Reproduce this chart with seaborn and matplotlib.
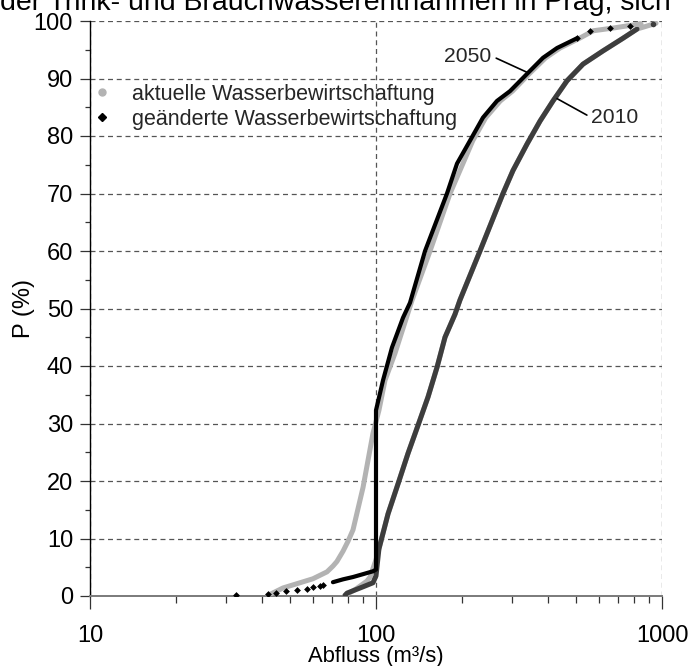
import matplotlib
matplotlib.use("Agg")
import matplotlib.pyplot as plt
import seaborn as sns
from matplotlib.lines import Line2D
from matplotlib.ticker import FixedLocator, NullFormatter

# ---------------- data ----------------
# 2050, geänderte Wasserbewirtschaftung (black)
q2050_new = [32.4, 41.9, 44.7, 48.5, 52.9, 57.4, 60.2, 63.7, 65.3, 70.7, 76.7, 83.1,
             90.1, 93.0, 97.6, 100.0, 100.0, 105.8, 113.7, 124.3, 131.5, 148.4, 177.1,
             192.0, 213.2, 236.6, 264.9, 294.1, 337.3, 383.7, 429.5, 504.5, 560.2,
             658.0, 773.0]
p2050_new = [0.1, 0.4, 0.6, 0.8, 1.0, 1.3, 1.5, 1.7, 1.9, 2.4, 2.9, 3.3,
             3.8, 4.0, 4.3, 4.6, 32.3, 37.5, 43.2, 48.4, 51.0, 60.0, 70.0,
             75.2, 79.2, 83.2, 86.1, 87.8, 90.8, 93.6, 95.3, 97.0, 98.3,
             98.8, 99.1]

# 2050, aktuelle Wasserbewirtschaftung (light grey)
q2050_cur = [41.9, 47.3, 54.2, 60.2, 63.7, 67.4, 70.7, 73.0, 76.7, 79.8, 83.1, 90.1,
             97.6, 102.4, 107.5, 116.5, 133.6, 154.5, 181.5, 218.0, 242.0, 272.0,
             300.0, 343.0, 392.0, 440.0, 515.0, 575.0, 680.0, 837.8]
p2050_cur = [0.1, 1.4, 2.3, 3.0, 3.6, 4.2, 5.2, 6.0, 7.8, 9.5, 11.5, 18.9,
             28.3, 32.3, 37.5, 42.2, 51.4, 60.0, 70.0, 79.2, 83.2, 86.1,
             87.8, 90.8, 93.6, 95.3, 97.0, 98.3, 98.8, 99.5]

# 2010, geänderte Wasserbewirtschaftung (dark grey)
q2010_new = [77.9, 79.2, 90.1, 97.6, 100.0, 102.4, 110.2, 119.4, 129.4, 140.3, 152.0,
             163.5, 174.3, 188.9, 196.7, 231.0, 278.0, 301.3, 337.3, 374.6, 415.8,
             465.4, 529.5, 621.9, 730.5, 817.7, 930.0]
p2010_new = [0.1, 0.5, 1.6, 2.3, 3.5, 8.2, 14.3, 19.5, 24.8, 29.7, 34.6,
             39.8, 45.0, 49.0, 51.5, 60.0, 70.0, 74.0, 78.6, 82.6, 86.1,
             89.6, 92.5, 94.8, 97.0, 98.6, 99.4]

# 2010, aktuelle Wasserbewirtschaftung (light grey, mostly hidden)
q2010_cur = [77.9, 85.0, 93.0, 95.3, 100.0, 102.4, 110.2, 119.4, 129.4, 140.3, 152.0,
             163.5, 174.3, 188.9, 196.7, 231.0, 278.0, 301.3, 337.3, 374.6, 415.8,
             465.4, 529.5, 621.9, 730.5, 817.7, 953.0]
p2010_cur = [0.1, 1.2, 2.6, 3.3, 6.3, 8.2, 14.3, 19.5, 24.8, 29.7, 34.6,
             39.8, 45.0, 49.0, 51.5, 60.0, 70.0, 74.0, 78.6, 82.6, 86.1,
             89.6, 92.5, 94.8, 97.0, 98.6, 99.6]

y_ticks = [0, 10, 20, 30, 40, 50, 60, 70, 80, 90, 100]
y_minor = [5, 15, 25, 35, 45, 55, 65, 75, 85, 95]
x_ticks = [10, 100, 1000]
x_tick_labels = ["10", "100", "1000"]
x_minor = [20, 30, 40, 50, 60, 70, 80, 90, 200, 300, 400, 500, 600, 700, 800, 900]

legend_labels = ["aktuelle Wasserbewirtschaftung", "geänderte Wasserbewirtschaftung"]
title_text = "der Trink- und Brauchwasserentnahmen in Prag, sich"

# ---------------- styling ----------------
sns.set_theme(style="white")
plt.rcParams["font.family"] = ["Liberation Sans", "DejaVu Sans"]

LIGHT = "#b3b3b3"
DARK = "#3d3d3d"
BLACK = "#000000"

fig = plt.figure(figsize=(6.91, 6.66), dpi=100)
ax = fig.add_axes([90 / 691, 70 / 666, 572 / 691, 575 / 666])

# 2010 curves
sns.lineplot(x=q2010_cur, y=p2010_cur, sort=False, estimator=None, color=LIGHT,
             lw=3.6, ax=ax, zorder=3)
sns.lineplot(x=q2010_new[:-1], y=p2010_new[:-1], sort=False, estimator=None, color=DARK,
             lw=3.6, ax=ax, zorder=4)
sns.scatterplot(x=q2010_new[-1:], y=p2010_new[-1:], color=DARK, s=16, linewidth=0,
                ax=ax, zorder=4)

# 2050 curves
sns.lineplot(x=q2050_cur, y=p2050_cur, sort=False, estimator=None, color=LIGHT,
             lw=3.6, ax=ax, zorder=5)
sns.scatterplot(x=q2050_cur[-1:], y=p2050_cur[-1:], color=LIGHT, s=20, linewidth=0,
                ax=ax, zorder=5)
sns.lineplot(x=q2050_new[9:32], y=p2050_new[9:32], sort=False, estimator=None,
             color=BLACK, lw=3.0, ax=ax, zorder=6)
sns.scatterplot(x=q2050_new[:9], y=p2050_new[:9], marker="D", color=BLACK, s=12,
                linewidth=0, ax=ax, zorder=6)
sns.scatterplot(x=q2050_new[31:], y=p2050_new[31:], marker="D", color=BLACK, s=12,
                linewidth=0, ax=ax, zorder=6)

ax.set_xscale("log")
ax.set_xlim(10, 1000)
ax.set_ylim(0, 100)

ax.xaxis.set_major_locator(FixedLocator(x_ticks))
ax.set_xticklabels(x_tick_labels)
ax.xaxis.set_minor_locator(FixedLocator(x_minor))
ax.xaxis.set_minor_formatter(NullFormatter())
ax.set_yticks(y_ticks)
ax.yaxis.set_minor_locator(FixedLocator(y_minor))

ax.tick_params(axis="y", which="major", left=True, direction="out", length=7.2,
               width=0.9, color="#333333", labelsize=17, pad=5, labelcolor="black")
ax.tick_params(axis="y", which="minor", left=True, direction="out", length=3.8,
               width=0.9, color="#333333")
ax.tick_params(axis="x", which="major", bottom=True, direction="out", length=9,
               width=0.9, color="#333333", labelsize=17, pad=12, labelcolor="black")
ax.tick_params(axis="x", which="minor", bottom=True, direction="out", length=5,
               width=0.9, color="#333333")

ax.grid(True, which="major", linestyle=(0, (4, 3)), color="#555555", lw=0.9)
ax.set_axisbelow(True)

for s in ["top", "right"]:
    ax.spines[s].set_visible(False)
ax.spines["left"].set_color("black")
ax.spines["left"].set_linewidth(1.0)
ax.spines["bottom"].set_color("#7a7a7a")
ax.spines["bottom"].set_linewidth(1.4)

ax.set_ylabel("P (%)", fontsize=17, labelpad=-1, color="black")
ax.set_xlabel("Abfluss (m³/s)", fontsize=15.8, labelpad=-1, color="black")

# annotations
ax.annotate("2050", xy=(340, 91.0), xytext=(209.8, 93.9), fontsize=15.2,
            ha="center", va="center", zorder=7,
            arrowprops=dict(arrowstyle="-", color="black", lw=1.2,
                            relpos=(1, 0.5), shrinkA=1, shrinkB=0))
ax.annotate("2010", xy=(429.6, 86.5), xytext=(685, 83.2), fontsize=15.2,
            ha="center", va="center", zorder=7,
            arrowprops=dict(arrowstyle="-", color="black", lw=1.2,
                            relpos=(0, 0.5), shrinkA=1, shrinkB=0))

# legend
handles = [Line2D([], [], marker="o", color=LIGHT, linestyle="none", markersize=5),
           Line2D([], [], marker="D", color=BLACK, linestyle="none", markersize=3.8)]
leg = ax.legend(handles, legend_labels, loc="upper left", bbox_to_anchor=(0.002, 0.891),
                frameon=False, fontsize=15.5, handlelength=1.0, handletextpad=0.9,
                borderpad=0, borderaxespad=0, labelspacing=0.2)

# cut-off title line at the top
fig.text(0.0, 1 - 10 / 666, title_text, fontsize=20.5, ha="left", va="baseline",
         color="black")

fig.savefig("out.png", dpi=100)
